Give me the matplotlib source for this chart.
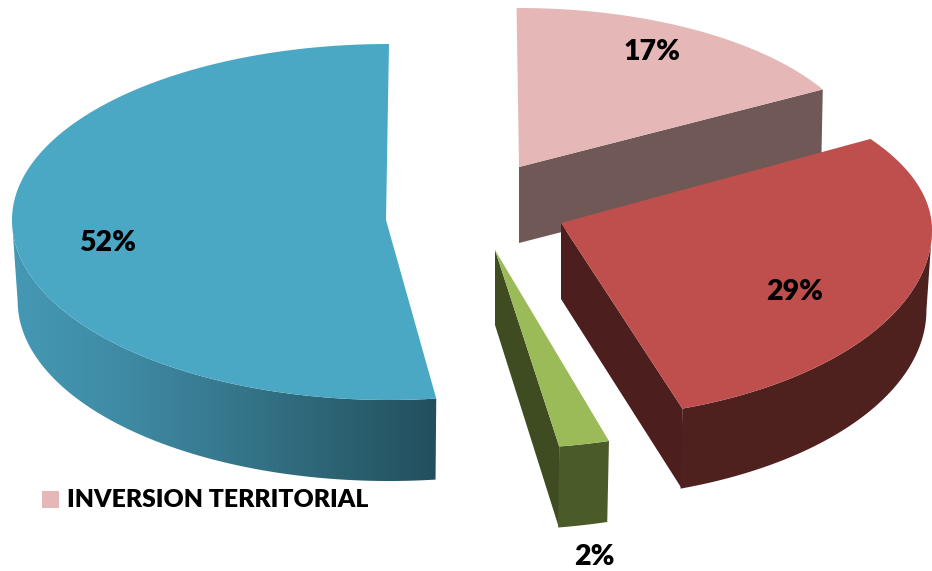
import numpy as np
import matplotlib
matplotlib.use('Agg')
import matplotlib.pyplot as plt
from matplotlib.colors import LinearSegmentedColormap
from matplotlib.patches import Polygon, Rectangle

plt.rcParams['font.family'] = ['Lato', 'DejaVu Sans']

# clockwise from 12 o'clock
labels = ['17%', '29%', '2%', '52%']
values = [17, 29, 2, 52]
legend_label = 'INVERSION TERRITORIAL'

W, H = 932, 571

# look of each slice: apex, arc centre, radii (rx, ry up, ry down), angle shift, depth
shapes = [
	dict(apex=(519, 167), center=(519, 167), rx=348, ry_up=159, ry_down=159, shift=0.4, depth=76, apex_depth=76,
		top='#e5b8b7', face='#6f5856', wall='#6f5856'),
	dict(apex=(561, 223), center=(561, 230), rx=371, ry_up=165, ry_down=189, shift=4.7, depth=80, apex_depth=76,
		top='#bf4f4c', face='#4c1f1e', wall='#4e201e'),
	dict(apex=(495, 250), center=(495, 250), rx=406, ry_up=199, ry_down=199, shift=1.9, depth=81, apex_depth=75,
		top='#9bbb59', face='#3f4c22', wall='#4a5a28'),
	dict(apex=(386, 220), center=(389, 220), rx=377, ry_up=176, ry_down=180, shift=0.0, depth=81, apex_depth=81,
		top='#4aa8c5', face=None, wall=None),
]
label_pos = [(652, 60), (795, 300), (594, 565), (108, 251)]

def arc_points(s, t_deg, dy=0, shrink=1.0):
	t = np.radians(t_deg)
	sn = np.sin(t)
	ry = np.where(sn > 0, s['ry_up'], s['ry_down'])
	x = s['center'][0] + s['rx'] * shrink * np.cos(t)
	y = s['center'][1] - ry * sn + dy
	return x, y

fig = plt.figure(figsize=(W / 100, H / 100), dpi=100)
ax = fig.add_axes([0, 0, 1, 1])

teal = LinearSegmentedColormap.from_list('teal', ['#4599b4', '#3f8ba5', '#37788e', '#2c6474', '#234f5d'])

cum = 0
for i in range(len(values)):
	s = shapes[i]
	hi = 90 - cum * 3.6 + s['shift']
	lo = hi - values[i] * 3.6
	cum += values[i]
	if lo < -180:
		lo += 360
		hi += 360
	ts = np.linspace(lo, hi, 300)
	ax_x, ax_y = arc_points(s, ts)
	ax_, ay_ = s['apex']

	# cut face, from the apex to the low end of the arc
	if s['face'] is not None:
		ex, ey = arc_points(s, np.array([lo]))
		ex2, ey2 = arc_points(s, np.array([lo]), dy=s['depth'], shrink=0.995)
		ax.add_patch(Polygon([(ax_, ay_), (ex[0], ey[0]), (ex2[0], ey2[0]), (ax_, ay_ + s['apex_depth'])],
			closed=True, fc=s['face'], ec='none', zorder=i * 3 + 1))

	# outer wall, only the front part shows
	front = ts[np.sin(np.radians(ts)) <= 0.001]
	if len(front) > 1:
		x1, y1 = arc_points(s, front)
		x2, y2 = arc_points(s, front, dy=s['depth'], shrink=0.985)
		pts = np.column_stack([np.r_[x1, x2[::-1]], np.r_[y1, y2[::-1]]])
		wall = Polygon(pts, closed=True, ec='none', fc=s['wall'] or 'none', zorder=i * 3 + 2)
		ax.add_patch(wall)
		if s['wall'] is None:
			im = ax.imshow(np.linspace(0, 1, 256).reshape(1, -1), cmap=teal, aspect='auto',
				extent=(12, 438, 500, 200), zorder=i * 3 + 2)
			im.set_clip_path(wall)

	# top of the slice
	pts = np.vstack([[ax_, ay_], np.column_stack([ax_x, ax_y])])
	ax.add_patch(Polygon(pts, closed=True, fc=s['top'], ec='none', zorder=i * 3 + 3))

for i in range(len(labels)):
	ax.text(label_pos[i][0], label_pos[i][1], labels[i], fontsize=20.5, fontweight='heavy', color='black',
		ha='center', va='baseline', zorder=20)

ax.add_patch(Rectangle((42, 491), 17, 17, fc=shapes[0]['top'], ec='none', zorder=20))
ax.text(67, 507, legend_label, fontsize=17.8, fontweight='heavy', color='black', ha='left', va='baseline', zorder=20)

ax.set_xlim(0, W)
ax.set_ylim(H, 0)
ax.axis('off')
fig.savefig('out.png', dpi=100)
